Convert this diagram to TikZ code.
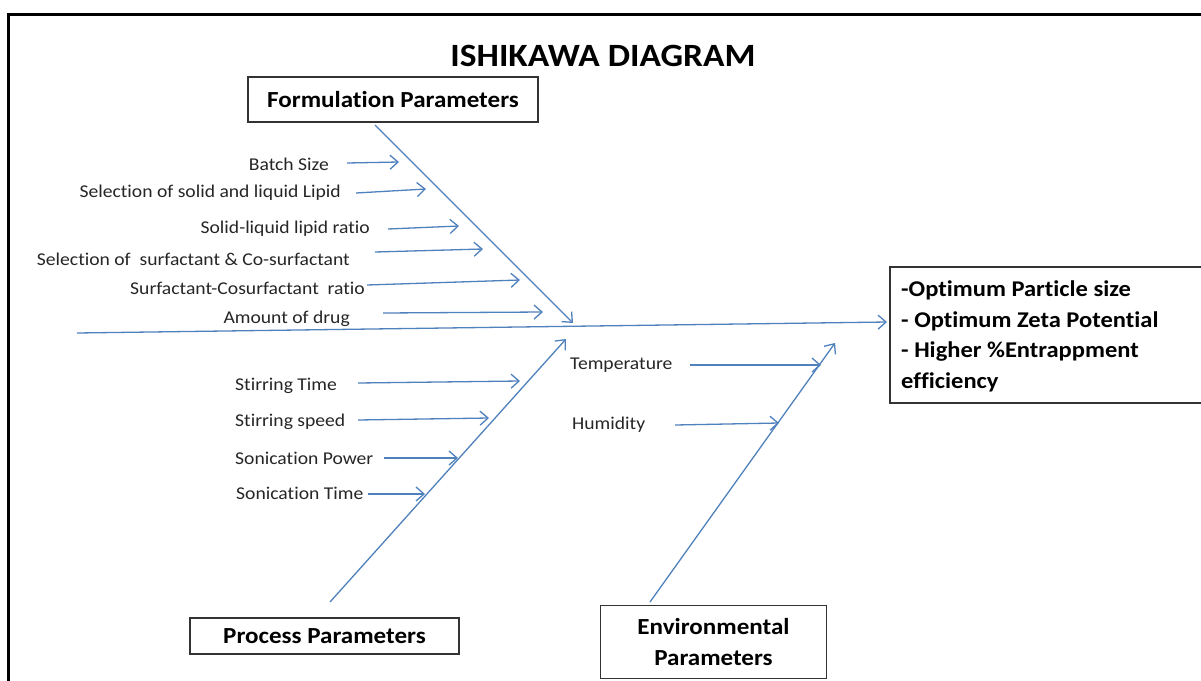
\documentclass[tikz,border=0pt]{standalone}
\usepackage{fontspec}
\setmainfont{Carlito}[FakeStretch=1.09, Ligatures=NoCommon]
\usetikzlibrary{arrows.meta}
\definecolor{arrowblue}{RGB}{79,129,189}
\tikzset{
  bone/.style={draw=arrowblue, line width=1.3pt, -{Straight Barb[length=8pt,width=14pt,line width=1.3pt]}},
  cause/.style={font=\fontsize{18}{21}\selectfont, inner sep=0pt, text=black!85},
  catbox/.style={draw=black!80, line width=1.5pt, fill=white, font=\fontsize{23}{28}\bfseries\selectfont, align=center, inner sep=0pt},
}
\begin{document}
\begin{tikzpicture}[x=1pt,y=-1pt]
\useasboundingbox (0,0) rectangle (1201,680);
\fill[white] (0,0) rectangle (1201,680);
% outer frame
\draw[line width=3pt, black] (8,700) -- (8,14) -- (1220,14);
% title
\node[font=\fontsize{32.5}{40}\bfseries\selectfont, inner sep=0pt] (title) at (603,56) {ISHIKAWA DIAGRAM};
% boxes
\node[catbox, minimum width=290pt, minimum height=45pt] (form) at (393,99.5) {Formulation Parameters};
\node[catbox, minimum width=269pt, minimum height=36pt] (proc) at (324.5,636) {Process Parameters};
\node[catbox, minimum width=226pt, minimum height=73pt] (env) at (713.5,642) {Environmental\\[3pt]Parameters};
\node[draw=black!80, line width=1.5pt, fill=white, minimum width=340pt, minimum height=136pt, anchor=north west, inner sep=0pt] (out) at (889,266) {};
\node[font=\fontsize{22.5}{30.5}\bfseries\selectfont, anchor=north west, align=left, inner sep=0pt] (outtxt) at (901,281) {-Optimum Particle size\\- Optimum Zeta Potential\\- Higher \%Entrappment\\efficiency};
% spine coordinates
\coordinate (mainstart) at (77,333);
\coordinate (maintip) at (887,322);
\coordinate (fstart) at (375,125);
\coordinate (ftip) at (573,323);
\coordinate (pstart) at (330,602);
\coordinate (ptip) at (566,339);
\coordinate (estart) at (650,602);
\coordinate (etip) at (835,343);
\draw[bone] (mainstart) -- (maintip);
\draw[bone] (fstart) -- (ftip);
\draw[bone] (pstart) -- (ptip);
\draw[bone] (estart) -- (etip);
% formulation causes
\node[cause, anchor=east] (f1) at (329,164) {Batch Size};
\node[cause, anchor=east] (f2) at (341,193) {Selection of solid and liquid Lipid};
\node[cause, anchor=east] (f3) at (370,229) {Solid-liquid lipid ratio};
\node[cause, anchor=east] (f4) at (350,259) {Selection of\ \ surfactant \& Co-surfactant};
\node[cause, anchor=east] (f5) at (365,288) {Surfactant-Cosurfactant\ \ ratio};
\node[cause, anchor=east] (f6) at (350,319) {Amount of drug};
\coordinate (f1a) at (347,163); \coordinate (f1b) at (399,162);
\coordinate (f2a) at (356,193); \coordinate (f2b) at (426,189);
\coordinate (f3a) at (388,229); \coordinate (f3b) at (459,226);
\coordinate (f4a) at (375,252); \coordinate (f4b) at (483,249);
\coordinate (f5a) at (367,285); \coordinate (f5b) at (520,280);
\coordinate (f6a) at (383,313); \coordinate (f6b) at (543,312);
\foreach \i in {1,...,6} {\draw[bone] (f\i a) -- (f\i b);}
% process causes
\node[cause, anchor=west] (p1) at (235,386) {Stirring Time};
\node[cause, anchor=west] (p2) at (235,422) {Stirring speed};
\node[cause, anchor=west] (p3) at (235,458) {Sonication Power};
\node[cause, anchor=west] (p4) at (236,493) {Sonication Time};
\coordinate (p1a) at (358,383); \coordinate (p1b) at (520,381);
\coordinate (p2a) at (358,420); \coordinate (p2b) at (489,418);
\coordinate (p3a) at (384,458); \coordinate (p3b) at (458,458);
\coordinate (p4a) at (368,494); \coordinate (p4b) at (425,494);
\foreach \i in {1,...,4} {\draw[bone] (p\i a) -- (p\i b);}
% environmental causes
\node[cause, anchor=west] (e1) at (570,365) {Temperature};
\node[cause, anchor=west] (e2) at (572,425) {Humidity};
\coordinate (e1a) at (690,365); \coordinate (e1b) at (821,365);
\coordinate (e2a) at (675,425); \coordinate (e2b) at (779,423);
\foreach \i in {1,2} {\draw[bone] (e\i a) -- (e\i b);}
\end{tikzpicture}
\end{document}
